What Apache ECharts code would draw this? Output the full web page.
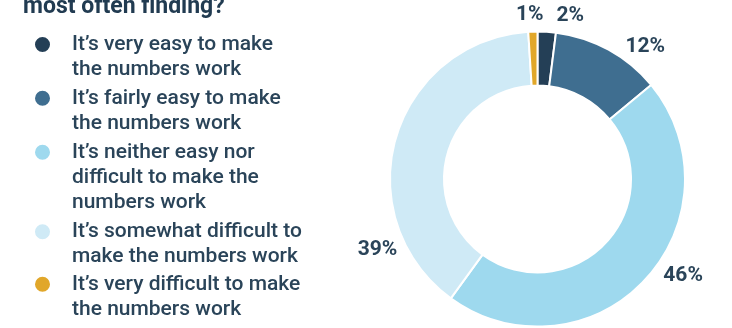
<!DOCTYPE html>
<html>
<head>
<meta charset="utf-8">
<script src="https://cdn.jsdelivr.net/npm/echarts@6/dist/echarts.min.js"></script>
<style>
  html, body { margin: 0; padding: 0; background: #ffffff; }
  #chart { width: 732px; height: 328px; }
</style>
</head>
<body>
<div id="chart"></div>
<script>
// Survey answers, in the order they run clockwise from 12 o'clock
const categories = [
  'It\u2019s very easy to make\nthe numbers work',
  'It\u2019s fairly easy to make\nthe numbers work',
  'It\u2019s neither easy nor\ndifficult to make the\nnumbers work',
  'It\u2019s somewhat difficult to\nmake the numbers work',
  'It\u2019s very difficult to make\nthe numbers work'
];
const shares = [2, 12, 46, 39, 1];
const titleText = 'most often finding?';

// Presentation settings
const palette = ['#243f56', '#3f6e90', '#9ed9ee', '#cfeaf6', '#e1a72a'];
const inkColor = '#2a4459';
const fontFamily = 'Roboto, "Noto Sans", sans-serif';
const lineH = 25;
// vertical centre of each legend marker
const legendRows = [44.5, 98.3, 152.3, 231.7, 284.3];
// per-label nudges away from the default outside position
const labelNudge = [[4, -6], [7, 6], [6, -11], [16, 115], [16, -7]];

const chart = echarts.init(document.getElementById('chart'), null, { renderer: 'canvas' });

// One legend block per answer so the marker sits beside the first text line.
// Leading blank lines push the first line down to the marker's centre.
const legends = categories.map((name, i) => {
  const nLines = name.split('\n').length;
  const lead = '\n'.repeat(nLines - 1);
  return {
    orient: 'vertical',
    left: 33,
    top: legendRows[i] - (2 * nLines - 1) * lineH / 2,
    padding: 0,
    itemWidth: 17,
    itemHeight: 17,
    icon: 'circle',
    selectedMode: false,
    data: [name],
    formatter: (n) => lead + n,
    textStyle: {
      fontFamily: fontFamily,
      fontSize: 21,
      fontWeight: 500,
      color: inkColor,
      lineHeight: lineH,
      padding: [0, 0, 0, 16]
    }
  };
});

const pieData = shares.map((v, i) => ({
  name: categories[i],
  value: v,
  itemStyle: { color: palette[i] },
  label: { offset: labelNudge[i] }
}));

chart.setOption({
  animation: false,
  title: {
    text: titleText,
    left: 23,
    top: -4,
    padding: 0,
    textStyle: {
      fontFamily: fontFamily,
      fontSize: 23,
      fontWeight: 'bold',
      color: '#213b51',
      lineHeight: 23
    }
  },
  legend: legends,
  series: [{
    type: 'pie',
    center: [537.5, 179],
    radius: [93.5, 147.5],
    startAngle: 90,
    clockwise: true,
    avoidLabelOverlap: false,
    itemStyle: { borderColor: '#ffffff', borderWidth: 2 },
    label: {
      show: true,
      position: 'outside',
      formatter: '{c}%',
      fontFamily: fontFamily,
      fontSize: 21,
      fontWeight: 'bold',
      color: inkColor
    },
    labelLine: { show: false, length: 10, length2: 0 },
    emphasis: { disabled: true },
    data: pieData
  }]
});
</script>
</body>
</html>
